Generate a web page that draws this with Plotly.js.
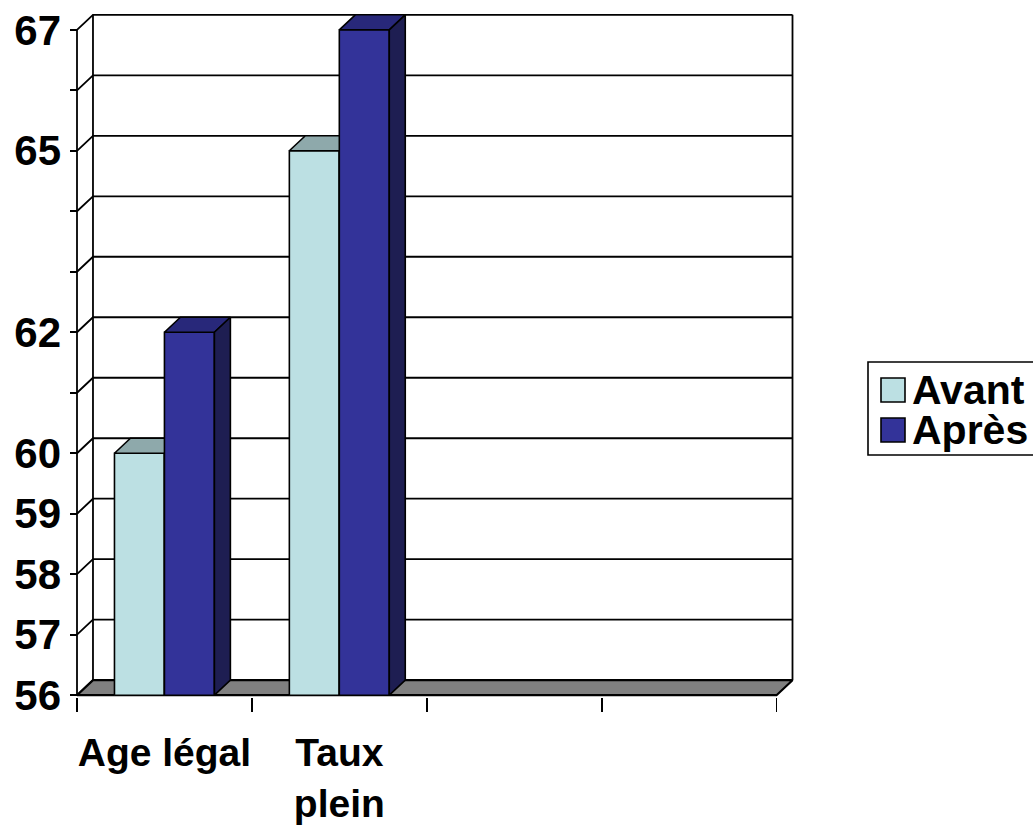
<!DOCTYPE html>
<html><head><meta charset="utf-8">
<script src="https://cdn.plot.ly/plotly-3.0.1.min.js"></script>
<style>html,body{margin:0;padding:0;background:#fff;}#chart{width:1033px;height:831px;}</style>
</head><body><div id="chart"></div>
<script>
// ---- data ----
const categories = ["Age légal", "Taux plein", "", ""];
const categoryLabels = ["Age légal", "Taux<br>plein"];
const seriesNames = ["Avant", "Après"];
const avant = [60, 65, null, null];
const apres = [62, 67, null, null];
const yTickValues = [56, 57, 58, 59, 60, 61, 62, 63, 64, 65, 66, 67];
const yTickLabels = ["56", "57", "58", "59", "60", "", "62", "", "", "65", "", "67"];

// ---- style / geometry ----
const W = 1033, H = 831;
const L = 70, R = 237, T = 13, B = 134;
const yMin = 56, yMax = 67;
const dx = 0.0914, dy = 0.248;          // 3D depth offsets in data units
const barW = 0.2857;
const nSeries = 2;
const groupW = nSeries * barW;
const xLo = -0.5, xHi = categories.length - 0.5;
const xRange = [xLo - 0.04, xHi + dx + 0.02];
const yRange = [yMin - 0.03, yMax + dy + 0.03];
const plotW = W - L - R, plotH = H - T - B;
const FAMILY = "Liberation Sans, Arial, sans-serif";
const TICKFONT = {family: FAMILY, size: 42, color: "#000", weight: "bold"};
const CATFONT = {family: FAMILY, size: 39, color: "#000", weight: "bold"};
const LEGFONT = {family: FAMILY, size: 41, color: "#000", weight: "bold"};

const colors = {
  front: ["#BCE0E3", "#333399"],
  top:   ["#8EA9AB", "#28287A"],
  side:  ["#5F7A7C", "#1E1E52"]
};

const traces = [];
function lineTrace(xs, ys, width) {
  return {type: "scatter", mode: "lines", x: xs, y: ys, hoverinfo: "skip",
          line: {color: "#000", width: width || 1.5}, showlegend: false, cliponaxis: false};
}

// back-wall gridlines with diagonal connectors from the front axis
(function () {
  const xs = [], ys = [];
  yTickValues.forEach(v => {
    xs.push(xLo, xLo + dx, xHi + dx, null);
    ys.push(v, v + dy, v + dy, null);
  });
  traces.push(lineTrace(xs, ys, 1.8));
})();
// back wall vertical edges
traces.push(lineTrace([xLo + dx, xLo + dx, null, xHi + dx, xHi + dx],
                      [yMin + dy, yMax + dy, null, yMin + dy, yMax + dy], 1.8));
// front value axis
traces.push(lineTrace([xLo, xLo], [yMin, yMax], 1.8));
// floor
traces.push({type: "scatter", mode: "lines", fill: "toself", fillcolor: "#808080",
  x: [xLo, xHi, xHi + dx, xLo + dx, xLo], y: [yMin, yMin, yMin + dy, yMin + dy, yMin],
  line: {color: "#000", width: 2.2}, hoverinfo: "skip", showlegend: false});

function facePolys(values, s, face) {
  const xs = [], ys = [];
  values.forEach((v, i) => {
    if (v == null) return;
    const x0 = i - groupW / 2 + s * barW, x1 = x0 + barW;
    let px, py;
    if (face === "front") { px = [x0, x1, x1, x0, x0]; py = [yMin, yMin, v, v, yMin]; }
    else if (face === "top") { px = [x0, x1, x1 + dx, x0 + dx, x0]; py = [v, v, v + dy, v + dy, v]; }
    else { px = [x1, x1 + dx, x1 + dx, x1, x1]; py = [yMin, yMin + dy, v + dy, v, yMin]; }
    xs.push(...px, null); ys.push(...py, null);
  });
  return {type: "scatter", mode: "lines", fill: "toself", fillcolor: colors[face][s],
    x: xs, y: ys, line: {color: "#000", width: 1.6}, name: seriesNames[s],
    hoverinfo: "skip", showlegend: false};
}
[avant, apres].forEach((vals, s) => {
  ["front", "top", "side"].forEach(face => traces.push(facePolys(vals, s, face)));
});

// ---- manual legend (pixel -> paper helpers) ----
const px2x = px => (px - L) / plotW;
const px2y = py => (H - B - py) / plotH;
const shapes = [
  {type: "rect", xref: "paper", yref: "paper", x0: px2x(868), x1: px2x(1045), y0: px2y(455), y1: px2y(362),
   line: {color: "#000", width: 1.6}, fillcolor: "#fff"}
];
const annotations = [];
const rowY = [390, 430];
seriesNames.forEach((nm, s) => {
  shapes.push({type: "rect", xref: "paper", yref: "paper",
    x0: px2x(881), x1: px2x(905), y0: px2y(rowY[s] + 12), y1: px2y(rowY[s] - 12),
    line: {color: "#000", width: 1.6}, fillcolor: colors.front[s]});
  annotations.push({xref: "paper", yref: "paper", x: px2x(910), y: px2y(rowY[s]),
    xanchor: "left", yanchor: "middle", text: nm, showarrow: false, font: LEGFONT});
});

const layout = {
  width: W, height: H,
  margin: {l: L, r: R, t: T, b: B, pad: 0},
  paper_bgcolor: "#fff", plot_bgcolor: "#fff",
  showlegend: false,
  font: TICKFONT,
  xaxis: {type: "linear", range: xRange, fixedrange: true,
    tickvals: [-0.5, 0.5, 1.5, 2.5, 3.5], showticklabels: false,
    ticks: "outside", ticklen: 14, tickwidth: 1.8, tickcolor: "#000",
    showgrid: false, zeroline: false, showline: false},
  xaxis2: {type: "linear", range: xRange, overlaying: "x", anchor: "y", side: "bottom", fixedrange: true,
    tickvals: categoryLabels.map((_, i) => i), ticktext: categoryLabels,
    ticks: "", showgrid: false, zeroline: false, showline: false,
    tickfont: CATFONT, ticklabelstandoff: 29},
  yaxis: {type: "linear", range: yRange, fixedrange: true,
    tickvals: yTickValues, ticktext: yTickLabels,
    ticks: "inside", ticklen: 7, tickwidth: 1.8, tickcolor: "#000",
    tickfont: TICKFONT, ticklabelstandoff: 8,
    showgrid: false, zeroline: false, showline: false},
  shapes: shapes,
  annotations: annotations
};
// dummy trace to activate xaxis2
traces.push({type: "scatter", mode: "markers", x: [0], y: [yMin], xaxis: "x2", yaxis: "y",
  marker: {opacity: 0}, hoverinfo: "skip", showlegend: false});

Plotly.newPlot("chart", traces, layout, {staticPlot: true, displayModeBar: false});
</script>
</body></html>
